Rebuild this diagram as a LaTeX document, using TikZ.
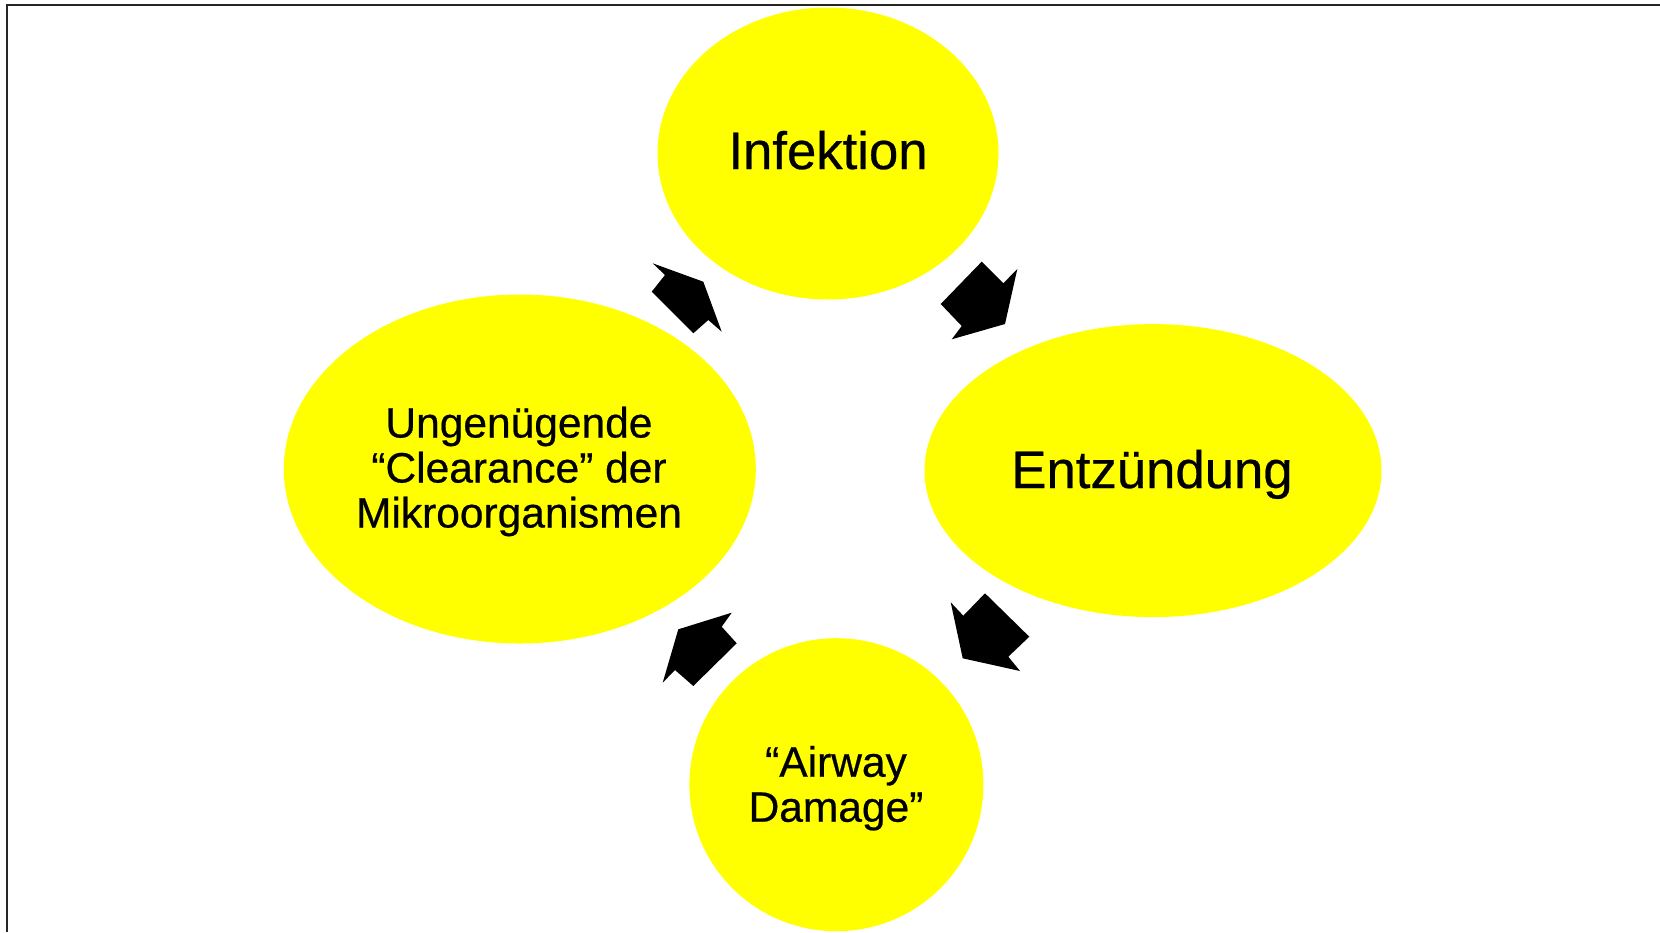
\documentclass[tikz,border=0pt]{standalone}
\usepackage{fontspec}
\setmainfont{Liberation Sans}[FakeBold=0.5]
\usetikzlibrary{shapes.geometric}
\definecolor{bubbleyellow}{RGB}{255,255,0}
\begin{document}
\begin{tikzpicture}[x=1pt,y=-1pt,
  bubble/.style={ellipse, fill=bubbleyellow, inner sep=0pt, outer sep=0pt},
  bigtext/.style={font=\fontsize{52.7}{55}\selectfont, anchor=base, inner sep=0pt},
  smalltext/.style={font=\fontsize{42.5}{45}\selectfont, align=center, anchor=base, inner sep=0pt},
  blockarrow/.style={fill=black},
  frameline/.style={line width=2pt, draw=black!85}]
\useasboundingbox (0,0) rectangle (1660,932);
\fill[white] (0,0) rectangle (1660,932);
% bubbles
\node[bubble, minimum width=341pt, minimum height=292pt] (inf) at (828,153.5) {};
\node[bubble, minimum width=457pt, minimum height=293pt] (ent) at (1153,470.6) {};
\node[bubble, minimum width=472pt, minimum height=349pt] (clr) at (519.8,469) {};
\node[bubble, minimum width=294pt, minimum height=293pt] (air) at (836.4,784.7) {};
% texts
\node[bigtext] (inft) at (828,169) {Infektion};
\node[bigtext] (entt) at (1152,488) {Entzündung};
\node[smalltext] (clrt) at (519,527.5) {Ungenügende\\“Clearance” der\\Mikroorganismen};
\node[smalltext] (airt) at (836,821.7) {“Airway\\Damage”};
% block arrows
\fill[blockarrow] (652.7,263.3) -- (703.3,281.7) -- (721.7,331.7) -- (708.3,320) -- (693.3,333.3) -- (651.7,291.7) -- (665,275) -- cycle;
\fill[blockarrow] (981.7,261.7) -- (1003.3,283.3) -- (1017.3,269) -- (1005,324) -- (951.7,339.3) -- (961.7,326) -- (940.7,304) -- cycle;
\fill[blockarrow] (950.7,602.3) -- (963.3,615.7) -- (985,593.3) -- (1029.3,636.7) -- (1008.3,656.7) -- (1020,671) -- (962.7,658.3) -- cycle;
\fill[blockarrow] (731.7,612.7) -- (721.7,626.7) -- (736.7,643.3) -- (693.3,686) -- (675,670) -- (662.7,682.7) -- (678.3,629.3) -- cycle;
% frame
\draw[frameline] (6.7,932) -- (6.7,4.8) -- (1660,4.8);
\end{tikzpicture}
\end{document}
